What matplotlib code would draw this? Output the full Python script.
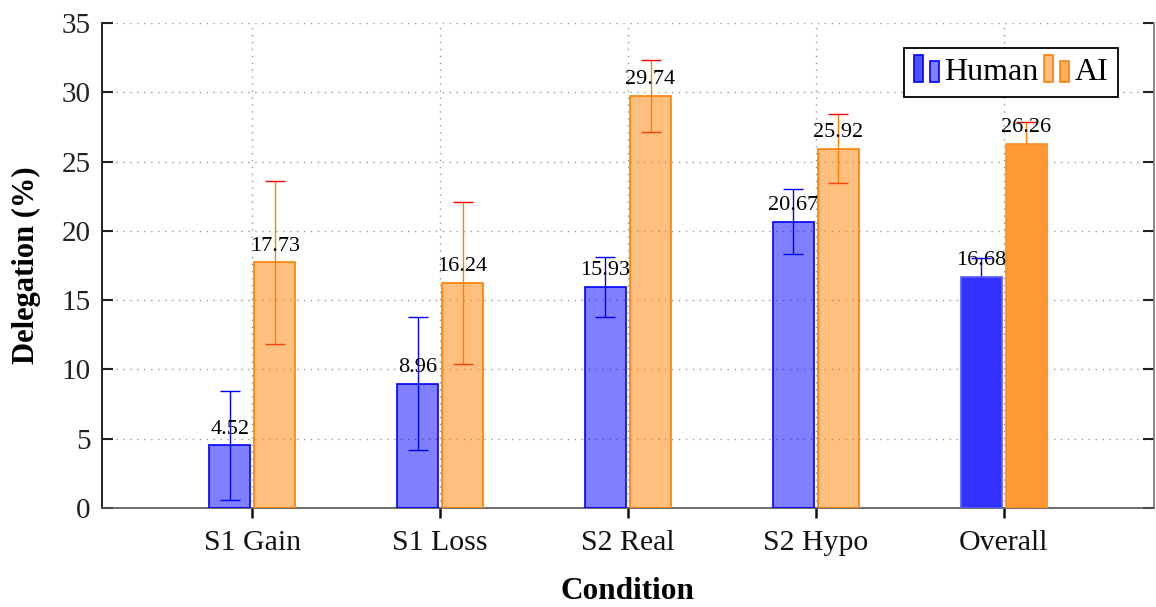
import numpy as np
import matplotlib.pyplot as plt
from matplotlib.patches import Rectangle
from matplotlib.legend_handler import HandlerBase

plt.rcParams['font.family'] = ['Liberation Serif', 'DejaVu Serif']

conditions = ["S1 Gain", "S1 Loss", "S2 Real", "S2 Hypo", "Overall"]
human = [4.52, 8.96, 15.93, 20.67, 16.68]
human_err = [3.95, 4.8, 2.15, 2.37, 1.35]
ai = [17.73, 16.24, 29.74, 25.92, 26.26]
ai_err = [5.88, 5.83, 2.6, 2.5, 1.56]


class TwoBars(HandlerBase):
    # pgfplots style legend: two little bars per entry
    def create_artists(self, legend, orig_handle, xdescent, ydescent,
                       width, height, fontsize, trans):
        p1, p2 = orig_handle
        bw = width * 0.36
        y0 = -ydescent - 0.08 * height
        r1 = Rectangle((-xdescent, y0), bw, height * 1.2,
                       facecolor=p1.get_facecolor(), edgecolor=p1.get_edgecolor(),
                       lw=1.2, transform=trans)
        r2 = Rectangle((-xdescent + width * 0.64, y0), bw, height * 0.92,
                       facecolor=p2.get_facecolor(), edgecolor=p2.get_edgecolor(),
                       lw=1.2, transform=trans)
        return [r1, r2]


fig = plt.figure(figsize=(11.56, 6.07), dpi=100)
ax = fig.add_axes([0.0882, 0.1631, 0.9101, 0.799])

x = np.arange(len(conditions))
w = 0.218
off = 0.12

hum_face = [(0, 0, 1, 0.5)] * 4 + [(0.2, 0.2, 1, 1)]
hum_edge = ['#0000ff'] * 4 + ['#5a5aff']
ai_face = [(1, 0.5, 0, 0.5)] * 4 + [(1, 0.6, 0.2, 1)]
ai_edge = ['#ff8000'] * 4 + ['#ff8c1a']

# error bars go under the bars
ax.errorbar(x - off, human, yerr=human_err, fmt='none', ecolor='#0000ff',
            elinewidth=1.0, capsize=7, capthick=1.0, zorder=2)
eb = ax.errorbar(x + off, ai, yerr=ai_err, fmt='none', ecolor='#ff8000',
                 elinewidth=1.0, capsize=7, capthick=1.0, zorder=2)
for cap in eb[1]:
    cap.set_markeredgecolor('#ff0000')
    cap.set_color('#ff0000')

hb = ax.bar(x - off, human, w, color=hum_face, edgecolor=hum_edge, lw=1.2, zorder=3)
ab = ax.bar(x + off, ai, w, color=ai_face, edgecolor=ai_edge, lw=1.2, zorder=3)

for xi, v in zip(x - off, human):
    ax.annotate(f"{v:.2f}", (xi, v), xytext=(0, 8.5), textcoords='offset points',
                ha='center', va='baseline', fontsize=16, zorder=5)
for xi, v in zip(x + off, ai):
    ax.annotate(f"{v:.2f}", (xi, v), xytext=(0, 8.5), textcoords='offset points',
                ha='center', va='baseline', fontsize=16, zorder=5)

ax.set_xlim(-0.8, 4.8)
ax.set_ylim(0, 35)
ax.set_yticks(np.arange(0, 36, 5))
ax.set_xticks(x)
ax.set_xticklabels(conditions, fontsize=21.5, color='#222222')
ax.tick_params(axis='y', direction='in', length=8, width=1.5, labelsize=21,
               pad=8, right=True, colors='#222222')
ax.tick_params(axis='x', direction='out', length=7, width=1.8, pad=9, colors='#111111')
ax.set_axisbelow(True)
ax.grid(True, which='major', color='#999999', linestyle=(0, (1, 4)), lw=1.0)

ax.spines['top'].set_visible(False)
ax.spines['left'].set_color('#222222')
ax.spines['left'].set_linewidth(1.4)
ax.spines['bottom'].set_color('#555555')
ax.spines['bottom'].set_linewidth(1.2)
ax.spines['right'].set_color('#777777')
ax.spines['right'].set_linewidth(1.2)

ax.set_xlabel("Condition", fontsize=22.5, fontweight='bold', labelpad=15)
ax.set_ylabel("Delegation (%)", fontsize=22, fontweight='bold')
ax.yaxis.set_label_coords(-0.058, 0.5)

hl = (Rectangle((0, 0), 1, 1, facecolor='#5050ff', edgecolor='#0000ff'),
      Rectangle((0, 0), 1, 1, facecolor='#8080ff', edgecolor='#0000ff'))
al = (Rectangle((0, 0), 1, 1, facecolor='#ffbf80', edgecolor='#ff8000'),
      Rectangle((0, 0), 1, 1, facecolor='#ffb060', edgecolor='#ff8000'))
leg = ax.legend([hl, al], ["Human", "AI"], handler_map={tuple: TwoBars()},
                loc='upper right', bbox_to_anchor=(0.966, 0.948), ncol=2,
                fontsize=23, frameon=True, fancybox=False, framealpha=1,
                edgecolor='black', borderaxespad=0, handlelength=0.78,
                handletextpad=0.19, columnspacing=0.16, borderpad=0.3)
leg.get_frame().set_linewidth(1.3)

plt.savefig("out.png", dpi=100)
